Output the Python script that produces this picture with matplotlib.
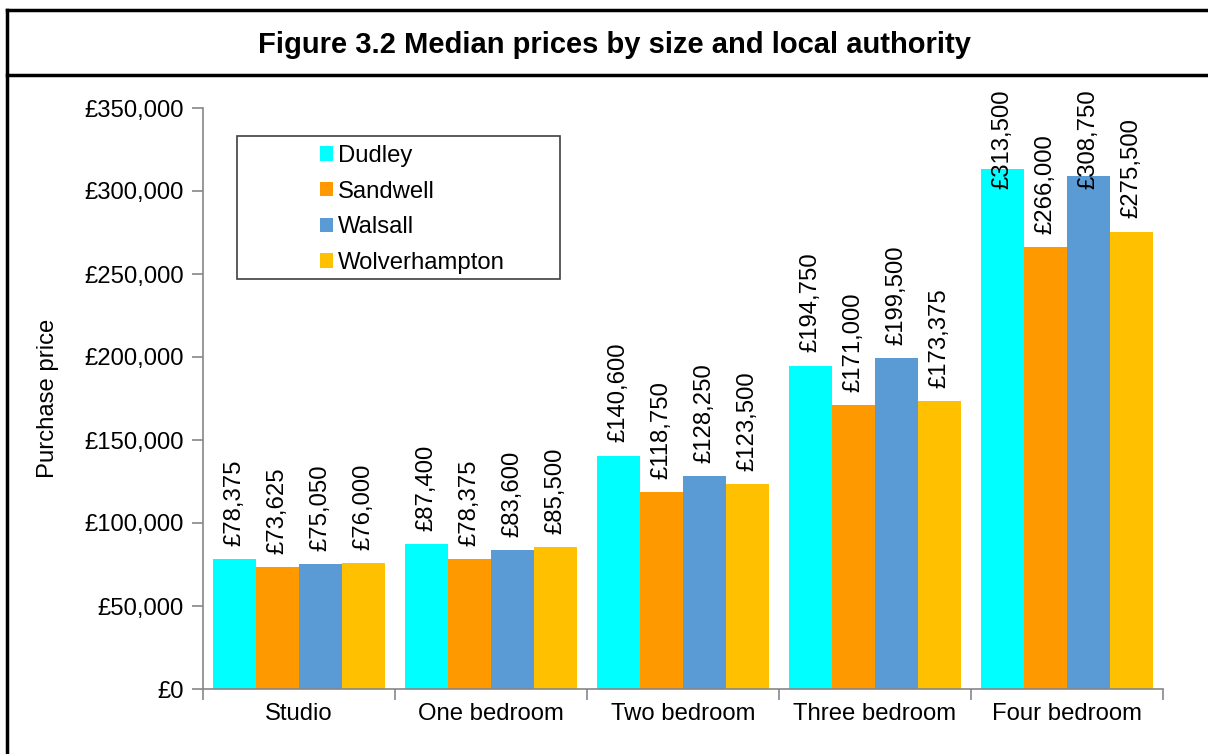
import numpy as np
import matplotlib.pyplot as plt
from matplotlib.lines import Line2D
from matplotlib.patches import Rectangle
from matplotlib.ticker import FuncFormatter

plt.rcParams['font.family'] = ['Liberation Sans', 'DejaVu Sans']

# donnees
categories = ['Studio', 'One bedroom', 'Two bedroom', 'Three bedroom', 'Four bedroom']
authorities = ['Dudley', 'Sandwell', 'Walsall', 'Wolverhampton']
dudley = [78375, 87400, 140600, 194750, 313500]
sandwell = [73625, 78375, 118750, 171000, 266000]
walsall = [75050, 83600, 128250, 199500, 308750]
wolverhampton = [76000, 85500, 123500, 173375, 275500]
colors = ['#00FFFF', '#FF9900', '#5B9BD5', '#FFC000']
series = [dudley, sandwell, walsall, wolverhampton]

fs = 17.2
fig = plt.figure(figsize=(12.08, 7.54), dpi=100)
ax = fig.add_axes([203/1208, 65/754, 960/1208, 581/754])

x = np.arange(len(categories))
w = 0.225
for i, (vals, c, name) in enumerate(zip(series, colors, authorities)):
    pos = x + (i - 1.5) * w
    ax.bar(pos, vals, width=w, color=c, label=name, zorder=2)
    for p, v in zip(pos, vals):
        # les etiquettes du haut restent dans le cadre (comme Excel)
        ybase = min(v + 8000, 301500)
        ax.text(p, ybase, '£{:,}'.format(v), rotation=90, ha='center',
                va='bottom', fontsize=fs, clip_on=False, zorder=3)

ax.set_xlim(-0.5, len(categories) - 0.5)
ax.set_ylim(0, 350000)
ax.set_yticks(np.arange(0, 350001, 50000))
ax.yaxis.set_major_formatter(FuncFormatter(lambda v, p: '£{:,.0f}'.format(v)))
ax.set_xticks(x)
ax.set_xticklabels(categories)
ax.set_xticks(np.arange(-0.5, len(categories)), minor=True)
ax.tick_params(axis='x', which='major', length=0, labelsize=fs, pad=10)
ax.tick_params(axis='x', which='minor', length=8, color='#868686', width=1.2)
ax.tick_params(axis='y', length=8, color='#868686', width=1.2, labelsize=fs, pad=6)
for s in ['top', 'right']:
    ax.spines[s].set_visible(False)
for s in ['left', 'bottom']:
    ax.spines[s].set_color('#868686')
    ax.spines[s].set_linewidth(1.2)
ax.set_ylabel('Purchase price', fontsize=fs, labelpad=18)

# legende avec cadre dessine a la main
fig.patches.append(Rectangle((237/1208, 1 - 279/754), 323/1208, 143/754,
                             transform=fig.transFigure, fill=False,
                             edgecolor='#404040', linewidth=1.2))
ax.legend(loc='upper left', bbox_to_anchor=(320/1208, 1 - 145/754),
          bbox_transform=fig.transFigure, frameon=False, fontsize=fs,
          borderpad=0, borderaxespad=0,
          handlelength=0.55, handleheight=0.55, handletextpad=0.2,
          labelspacing=0.57)

fig.text(0.509, 1 - 45/754, 'Figure 3.2 Median prices by size and local authority',
         ha='center', va='center', fontsize=21, fontweight='bold')

# cadre de la figure
lw = 2.5
fig.add_artist(Line2D([7/1208, 7/1208], [0, 1 - 10/754], color='black', lw=lw,
                      transform=fig.transFigure))
fig.add_artist(Line2D([7/1208, 1], [1 - 10/754, 1 - 10/754], color='black', lw=lw,
                      transform=fig.transFigure))
fig.add_artist(Line2D([7/1208, 1], [1 - 75/754, 1 - 75/754], color='black', lw=lw,
                      transform=fig.transFigure))

fig.savefig('out.png', dpi=100)
